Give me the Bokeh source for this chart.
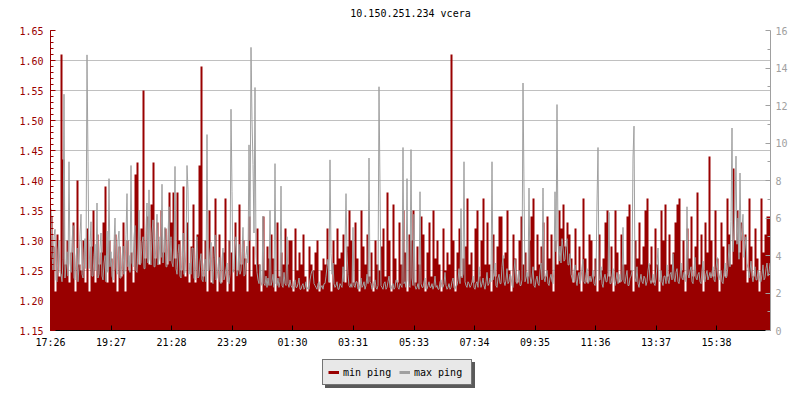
import numpy as np
from bokeh.plotting import figure
from bokeh.layouts import column
from bokeh.models import (Range1d, LinearAxis, FixedTicker, NumeralTickFormatter,
                          Legend, LegendItem, Label)
from bokeh.embed import file_html
from bokeh.resources import INLINE

TITLE = "10.150.251.234 vcera"
SPAN_MIN = 1440       # 24 hours shown

# min ping (ms, left axis) - one value per 4 minutes, 30 values per 2 hours
min_ping = [
    1.34, 1.29, 1.215, 1.31, 1.24, 1.61, 1.435, 1.26, 1.30, 1.23, 1.28, 1.33, 1.215, 1.40, 1.26, 1.25, 1.30, 1.23, 1.32, 1.215, 1.29, 1.35, 1.23, 1.31, 1.26, 1.28, 1.33, 1.39, 1.23, 1.30,
    1.27, 1.23, 1.31, 1.215, 1.29, 1.24, 1.33, 1.215, 1.30, 1.25, 1.28, 1.23, 1.41, 1.43, 1.26, 1.32, 1.55, 1.27, 1.34, 1.26, 1.36, 1.43, 1.27, 1.33, 1.26, 1.35, 1.28, 1.32, 1.26, 1.38,
    1.33, 1.38, 1.27, 1.38, 1.30, 1.25, 1.39, 1.24, 1.33, 1.23, 1.29, 1.36, 1.23, 1.31, 1.425, 1.59, 1.24, 1.30, 1.215, 1.35, 1.23, 1.29, 1.37, 1.215, 1.31, 1.23, 1.28, 1.37, 1.215, 1.30,
    1.28, 1.215, 1.33, 1.25, 1.36, 1.26, 1.30, 1.27, 1.215, 1.34, 1.24, 1.29, 1.26, 1.32, 1.26, 1.215, 1.34, 1.25, 1.29, 1.27, 1.31, 1.27, 1.215, 1.33, 1.24, 1.28, 1.26, 1.32, 1.26, 1.30,
    1.30, 1.215, 1.32, 1.25, 1.28, 1.26, 1.31, 1.24, 1.215, 1.29, 1.26, 1.25, 1.28, 1.30, 1.215, 1.25, 1.27, 1.26, 1.32, 1.23, 1.215, 1.30, 1.26, 1.32, 1.27, 1.28, 1.31, 1.23, 1.29, 1.35,
    1.30, 1.23, 1.33, 1.27, 1.215, 1.35, 1.29, 1.26, 1.31, 1.24, 1.28, 1.215, 1.30, 1.26, 1.25, 1.29, 1.32, 1.24, 1.38, 1.30, 1.215, 1.36, 1.27, 1.23, 1.33, 1.26, 1.35, 1.28, 1.215, 1.31,
    1.30, 1.35, 1.23, 1.29, 1.26, 1.34, 1.31, 1.215, 1.28, 1.33, 1.24, 1.35, 1.27, 1.30, 1.26, 1.215, 1.32, 1.25, 1.28, 1.26, 1.61, 1.30, 1.215, 1.28, 1.32, 1.24, 1.27, 1.29, 1.37, 1.26,
    1.28, 1.23, 1.32, 1.35, 1.24, 1.30, 1.37, 1.26, 1.33, 1.26, 1.215, 1.31, 1.24, 1.29, 1.34, 1.34, 1.27, 1.28, 1.35, 1.25, 1.215, 1.31, 1.27, 1.23, 1.30, 1.34, 1.26, 1.28, 1.24, 1.30,
    1.34, 1.37, 1.25, 1.31, 1.26, 1.29, 1.33, 1.24, 1.34, 1.27, 1.31, 1.215, 1.30, 1.26, 1.35, 1.32, 1.36, 1.29, 1.33, 1.31, 1.27, 1.23, 1.32, 1.25, 1.29, 1.215, 1.37, 1.27, 1.23, 1.31,
    1.30, 1.24, 1.27, 1.215, 1.31, 1.25, 1.27, 1.33, 1.35, 1.24, 1.29, 1.215, 1.35, 1.28, 1.23, 1.31, 1.26, 1.26, 1.34, 1.36, 1.25, 1.215, 1.30, 1.27, 1.33, 1.26, 1.29, 1.35, 1.37, 1.26,
    1.29, 1.23, 1.32, 1.26, 1.215, 1.35, 1.30, 1.36, 1.24, 1.31, 1.26, 1.28, 1.33, 1.36, 1.37, 1.25, 1.30, 1.215, 1.32, 1.27, 1.34, 1.24, 1.29, 1.38, 1.26, 1.31, 1.215, 1.33, 1.28, 1.44,
    1.30, 1.24, 1.35, 1.27, 1.215, 1.33, 1.29, 1.24, 1.37, 1.31, 1.26, 1.42, 1.30, 1.35, 1.28, 1.33, 1.25, 1.31, 1.23, 1.37, 1.29, 1.24, 1.32, 1.27, 1.215, 1.37, 1.28, 1.31, 1.34, 1.34,
]

# max ping (ms, right axis) - one value per 2 minutes, 60 values per 2 hours
max_ping = [
    6.5, 4.1, 3.2, 5.0, 5.4, 2.7, 2.6, 4.3, 4.8, 3.1, 3.0, 2.6, 3.8, 12.6, 2.8, 3.5, 4.2, 2.9, 9.0, 3.6,
    3.1, 4.7, 5.6, 2.8, 2.7, 3.9, 4.4, 2.6, 3.4, 5.1, 6.2, 3.0, 2.8, 4.2, 4.9, 3.3, 14.7, 9.0, 3.3, 4.5,
    5.8, 2.9, 2.9, 4.0, 4.6, 3.2, 6.8, 2.8, 3.0, 4.4, 5.2, 2.9, 2.7, 3.6, 4.0, 2.6, 5.3, 3.1, 8.1, 3.4,
    4.2, 2.9, 2.7, 4.6, 6.0, 3.3, 3.0, 4.8, 5.3, 2.8, 2.8, 3.9, 4.5, 3.0, 3.2, 5.1, 7.3, 3.4, 4.0, 3.1,
    8.8, 3.6, 3.4, 5.0, 5.6, 3.2, 3.1, 4.4, 6.4, 3.5, 3.6, 4.7, 5.0, 3.3, 3.3, 5.4, 6.8, 3.6, 7.5, 3.8,
    3.5, 5.2, 5.9, 3.4, 3.4, 4.8, 6.2, 3.5, 3.8, 5.0, 3.9, 7.8, 3.6, 4.6, 5.5, 3.4, 3.4, 5.1, 6.6, 3.7,
    5.0, 3.6, 3.4, 4.4, 8.75, 3.3, 3.0, 4.1, 4.6, 2.9, 2.8, 4.0, 5.2, 3.0, 3.1, 4.3, 8.8, 7.5, 3.0, 3.6,
    3.0, 4.4, 4.4, 2.8, 2.7, 3.9, 5.0, 2.8, 2.9, 3.7, 4.1, 2.7, 2.6, 3.5, 3.8, 2.6, 10.45, 3.2, 3.2, 4.2,
    4.7, 2.7, 2.5, 3.9, 5.1, 2.7, 2.8, 3.4, 3.9, 2.6, 2.5, 3.8, 4.4, 2.7, 2.9, 3.3, 3.6, 2.6, 2.5, 3.0,
    11.8, 7.4, 3.1, 3.3, 4.4, 5.0, 2.9, 3.2, 4.6, 3.0, 3.2, 4.2, 5.5, 2.9, 3.0, 4.0, 4.5, 3.6, 9.9, 4.8,
    15.1, 11.25, 8.85, 5.2, 12.96, 4.0, 3.1, 2.7, 2.5, 3.5, 2.6, 2.4, 6.1, 2.5, 2.4, 2.9, 2.3, 2.8, 2.4, 6.4,
    2.4, 2.6, 3.0, 2.3, 8.9, 2.5, 2.4, 2.8, 2.3, 2.6, 7.7, 2.4, 2.3, 3.1, 2.5, 2.4, 5.0, 2.5, 2.3, 2.7,
    2.4, 2.3, 2.2, 2.6, 2.7, 2.3, 2.3, 2.5, 2.8, 2.2, 2.2, 2.4, 2.5, 2.2, 2.3, 2.6, 2.2, 2.3, 2.2, 2.7,
    3.0, 3.2, 3.2, 2.5, 2.4, 2.3, 2.2, 2.5, 2.6, 2.2, 2.3, 2.4, 2.2, 2.5, 2.5, 2.9, 3.4, 3.8, 2.6, 9.1,
    4.1, 3.0, 3.6, 2.5, 2.3, 2.4, 2.6, 2.2, 2.2, 2.5, 2.4, 2.3, 3.4, 2.6, 4.5, 7.3, 4.2, 3.0, 2.4, 2.3,
    2.5, 2.3, 5.5, 2.4, 2.3, 2.6, 2.6, 2.2, 2.2, 2.5, 2.8, 2.3, 2.4, 2.6, 2.2, 2.4, 3.0, 2.5, 9.2, 2.6,
    2.5, 2.2, 2.3, 2.6, 2.7, 2.3, 2.2, 2.4, 13.0, 7.6, 2.4, 2.3, 2.2, 2.5, 2.6, 2.2, 2.3, 2.6, 2.9, 2.3,
    2.2, 2.4, 2.5, 2.2, 2.3, 2.7, 2.7, 2.3, 2.2, 2.5, 2.4, 2.3, 9.76, 2.5, 2.6, 2.3, 8.1, 2.7, 2.4, 2.3,
    9.65, 2.8, 2.4, 6.2, 2.4, 2.2, 2.3, 2.5, 2.2, 7.4, 2.5, 2.3, 2.3, 2.6, 2.8, 2.2, 2.2, 2.4, 2.6, 2.3,
    2.3, 2.5, 2.2, 2.4, 2.9, 2.3, 2.4, 2.2, 2.2, 2.6, 2.7, 2.3, 2.3, 2.5, 3.1, 2.4, 2.2, 2.3, 2.5, 2.2,
    2.3, 2.6, 2.8, 2.3, 2.2, 2.4, 2.4, 2.7, 3.3, 2.5, 6.5, 2.8, 3.0, 9.0, 2.6, 2.4, 2.3, 2.6, 2.5, 2.3,
    2.4, 2.6, 2.9, 2.3, 2.2, 2.5, 2.6, 2.3, 3.4, 2.7, 2.3, 2.5, 2.8, 2.4, 2.2, 2.6, 3.1, 2.4, 2.5, 2.8,
    2.6, 9.0, 2.7, 3.1, 3.6, 2.4, 2.3, 2.8, 3.0, 2.5, 2.5, 3.4, 4.0, 2.6, 2.4, 2.7, 3.3, 2.5, 2.6, 3.0,
    2.9, 2.4, 2.3, 3.2, 3.8, 2.6, 2.5, 2.9, 3.2, 2.4, 2.4, 2.7, 13.2, 7.6, 2.6, 2.8, 3.1, 2.5, 7.6, 2.9,
    2.5, 2.8, 3.4, 2.4, 2.3, 2.7, 2.9, 2.5, 2.4, 3.2, 3.6, 2.7, 7.6, 2.8, 2.6, 3.0, 3.2, 2.5, 2.4, 2.8,
    3.0, 2.6, 2.5, 3.3, 7.4, 4.2, 12.05, 4.8, 3.7, 4.5, 3.6, 4.9, 4.4, 3.7, 3.8, 4.6, 4.9, 3.5, 3.5, 4.1,
    3.0, 2.8, 2.6, 3.2, 3.5, 2.7, 2.4, 2.9, 3.1, 2.5, 2.7, 3.4, 3.8, 2.6, 2.5, 3.0, 3.3, 2.5, 2.6, 2.9,
    2.6, 2.8, 3.2, 2.5, 2.4, 2.9, 6.8, 9.76, 2.7, 2.7, 3.4, 2.5, 2.3, 2.8, 3.0, 2.6, 2.6, 3.1, 6.3, 2.5,
    2.5, 2.9, 3.3, 2.6, 2.4, 2.7, 3.1, 2.5, 2.6, 3.0, 2.6, 2.7, 5.5, 2.6, 2.5, 2.9, 3.2, 2.4, 2.4, 2.8,
    2.9, 3.2, 9.2, 10.9, 2.8, 2.6, 3.4, 2.5, 2.3, 2.7, 3.0, 2.6, 2.5, 2.9, 2.8, 2.4, 2.6, 3.2, 3.6, 2.7,
    2.5, 2.7, 3.0, 2.5, 2.4, 2.8, 3.5, 4.4, 2.7, 2.6, 3.2, 2.6, 2.4, 2.9, 2.9, 2.5, 3.5, 2.7, 2.5, 3.0,
    3.1, 2.7, 4.1, 2.8, 2.6, 3.1, 3.3, 2.6, 2.5, 2.9, 3.6, 2.8, 2.7, 3.1, 3.0, 2.6, 6.6, 3.0, 2.8, 3.2,
    3.4, 2.6, 2.5, 3.3, 3.9, 2.8, 2.7, 3.0, 3.1, 2.6, 2.5, 3.2, 3.7, 2.7, 2.6, 3.0, 3.2, 2.7, 2.9, 3.1,
    2.8, 3.1, 3.4, 2.7, 2.6, 3.3, 3.9, 2.9, 2.7, 3.0, 3.2, 2.6, 2.5, 3.1, 3.6, 2.8, 2.9, 3.5, 4.6, 3.4,
    5.8, 10.8, 4.2, 5.2, 6.4, 9.3, 4.6, 6.0, 3.8, 8.4, 4.8, 5.5, 6.2, 3.9, 4.4, 5.0, 3.6, 3.3, 2.8, 3.2,
    3.7, 2.9, 2.6, 3.0, 3.4, 2.7, 2.7, 3.2, 3.1, 2.6, 2.6, 3.0, 3.5, 2.7, 2.8, 3.3, 3.6, 2.9, 3.1, 3.6,
]

tick_minutes = [0, 121, 242, 363, 484, 605, 727, 848, 969, 1090, 1211, 1332]
tick_labels = ["17:26", "19:27", "21:28", "23:29", "01:30", "03:31",
               "05:33", "07:34", "09:35", "11:36", "13:37", "15:38"]
left_ticks = [1.15, 1.20, 1.25, 1.30, 1.35, 1.40, 1.45, 1.50, 1.55, 1.60, 1.65]
right_ticks = [0, 2, 4, 6, 8, 10, 12, 14, 16]
legend_labels = ["min ping", "max ping"]

RED = "#990000"
GRAY = "#a0a0a0"
GRID = "#c0c0c0"
FONT = "DejaVu Sans Mono"
FS = "10px"

# ---- title strip -------------------------------------------------------
TOP_H = 24
tf = figure(width=800, height=TOP_H, output_backend="svg", toolbar_location=None,
            x_range=Range1d(0, SPAN_MIN), y_range=Range1d(0, TOP_H),
            x_axis_type=None, y_axis_type=None, min_border=0)
tf.outline_line_color = None
tf.background_fill_color = "white"
tf.border_fill_color = "white"
tf.grid.visible = False
tf.add_layout(Label(x=SPAN_MIN / 2, y=TOP_H - 13, text=TITLE, text_align="center",
                    text_baseline="middle", text_font=FONT, text_font_size=FS,
                    text_color="black"))

# ---- main chart --------------------------------------------------------
p = figure(width=800, height=352 - TOP_H, output_backend="svg", toolbar_location=None,
           x_range=tf.x_range, y_range=Range1d(left_ticks[0], left_ticks[-1]),
           min_border_left=50, min_border_right=30, min_border_top=30 - TOP_H,
           min_border_bottom=22)
p.outline_line_color = None
p.background_fill_color = "white"
p.border_fill_color = "white"

# red area: min ping (held constant over each sample interval)
n = len(min_ping)
step_r = SPAN_MIN / n
edges = np.arange(n + 1) * step_r
xs = np.repeat(edges, 2)[1:-1]
ys = np.repeat(np.array(min_ping), 2)
p.varea(x=xs, y1=left_ticks[0], y2=ys, fill_color=RED, fill_alpha=1.0)

# gray line: max ping on the right axis
p.extra_y_ranges = {"right": Range1d(right_ticks[0], right_ticks[-1])}
m = len(max_ping)
step_g = SPAN_MIN / m
gx = np.arange(m) * step_g + step_g / 2
p.line(x=gx, y=max_ping, line_color=GRAY, line_width=1, y_range_name="right")

# axes
xa = p.xaxis[0]
xa.ticker = FixedTicker(ticks=tick_minutes, minor_ticks=[])
xa.major_label_overrides = {t: l for t, l in zip(tick_minutes, tick_labels)}
xa.axis_line_color = "black"
xa.major_tick_line_color = "black"
xa.major_tick_in = 5
xa.major_tick_out = 0
xa.minor_tick_line_color = None
xa.major_label_text_font = FONT
xa.major_label_text_font_size = FS
xa.major_label_text_color = "black"
xa.major_label_standoff = 6

ya = p.yaxis[0]
left_minor = [round(1.15 + 0.01 * i, 2) for i in range(51)]
ya.ticker = FixedTicker(ticks=left_ticks, minor_ticks=left_minor)
ya.formatter = NumeralTickFormatter(format="0.00")
ya.axis_line_color = RED
ya.major_tick_line_color = RED
ya.minor_tick_line_color = RED
ya.major_tick_in = 5
ya.major_tick_out = 0
ya.minor_tick_in = 3
ya.minor_tick_out = 0
ya.major_label_text_font = FONT
ya.major_label_text_font_size = FS
ya.major_label_text_color = RED
ya.major_label_standoff = 7

ra = LinearAxis(y_range_name="right",
                ticker=FixedTicker(ticks=right_ticks, minor_ticks=list(range(1, 16, 2))))
ra.axis_line_color = GRAY
ra.major_tick_line_color = GRAY
ra.minor_tick_line_color = GRAY
ra.major_tick_in = 5
ra.major_tick_out = 0
ra.minor_tick_in = 3
ra.minor_tick_out = 0
ra.major_label_text_font = FONT
ra.major_label_text_font_size = FS
ra.major_label_text_color = GRAY
ra.major_label_standoff = 5
p.add_layout(ra, "right")

p.xgrid.visible = False
p.ygrid.ticker = FixedTicker(ticks=left_ticks)
p.ygrid.grid_line_color = GRID
p.ygrid.grid_line_width = 1

# ---- legend strip ------------------------------------------------------
lf = figure(width=800, height=48, output_backend="svg", toolbar_location=None,
            x_range=Range1d(0, 800), y_range=Range1d(0, 48),
            x_axis_type=None, y_axis_type=None, min_border=0)
lf.outline_line_color = None
lf.background_fill_color = "white"
lf.border_fill_color = "white"
lf.grid.visible = False

rmin = lf.line(x=[np.nan], y=[np.nan], line_color=RED, line_width=3)
rmax = lf.line(x=[np.nan], y=[np.nan], line_color=GRAY, line_width=3)

def make_legend(loc, labels, bg, border, text_color, text_alpha):
    return Legend(items=[LegendItem(label=labels[0], renderers=[rmin]),
                         LegendItem(label=labels[1], renderers=[rmax])],
                  location=loc, orientation="horizontal",
                  background_fill_color=bg, background_fill_alpha=1.0,
                  border_line_color=border, border_line_width=1,
                  label_text_font=FONT, label_text_font_size=FS,
                  label_text_color=text_color, label_text_alpha=text_alpha,
                  padding=5, spacing=4, label_standoff=4, glyph_width=11, glyph_height=10,
                  label_height=14, label_width=52, margin=0)

# drop shadow (same box size, no visible text), then the legend itself
lf.add_layout(make_legend((275, 12), [" ", " "], "#5a5a5a", "#5a5a5a", "#5a5a5a", 0.0))
lf.add_layout(make_legend((272, 15), legend_labels, "#e8e8e8", "black", "black", 1.0))

layout = column(tf, p, lf, spacing=0)
open("out.html", "w").write(file_html(layout, INLINE))
